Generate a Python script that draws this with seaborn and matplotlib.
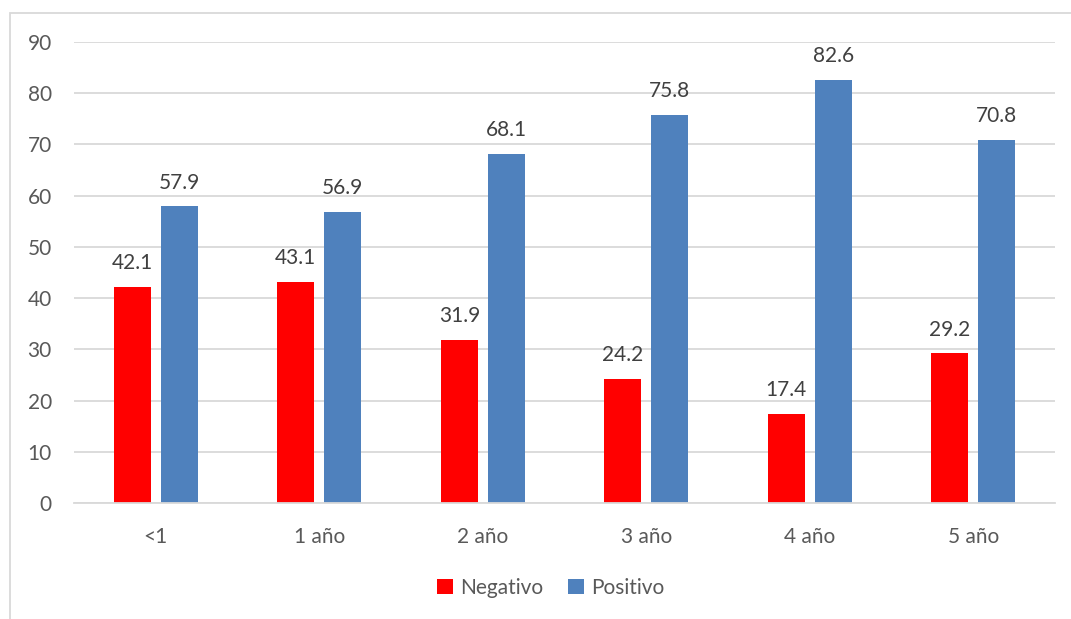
import matplotlib
matplotlib.use("Agg")
import matplotlib.pyplot as plt
from matplotlib.patches import Rectangle
import seaborn as sns
import pandas as pd

# Data
categories = ["<1", "1 año", "2 año", "3 año", "4 año", "5 año"]
negativo = [42.1, 43.1, 31.9, 24.2, 17.4, 29.2]
positivo = [57.9, 56.9, 68.1, 75.8, 82.6, 70.8]
series_names = ["Negativo", "Positivo"]
y_ticks = [0, 10, 20, 30, 40, 50, 60, 70, 80, 90]

df = pd.DataFrame({
    "grupo": categories * 2,
    "serie": [series_names[0]] * len(categories) + [series_names[1]] * len(categories),
    "valor": negativo + positivo,
})

sns.set_theme(style="white")
plt.rcParams["font.family"] = ["Lato", "DejaVu Sans"]

TEXT = "#595959"
LABEL = "#404040"
GRID = "#D9D9D9"
palette = {"Negativo": "#FF0000", "Positivo": "#4F81BD"}

W, H = 1071, 619
fig = plt.figure(figsize=(W / 100, H / 100), dpi=100)
fig.patch.set_facecolor("white")

# chart frame
fig.patches.append(Rectangle((10 / W, -0.05), 1.2, 1 - 13 / H + 0.05,
                             transform=fig.transFigure, fill=False,
                             edgecolor=GRID, linewidth=1.3))

ax = fig.add_axes([74 / W, 1 - 503 / H, (1055 - 74) / W, (503 - 42) / H])
sns.barplot(data=df, x="grupo", y="valor", hue="serie", order=categories,
            hue_order=series_names, palette=palette, width=0.572, gap=0.213,
            saturation=1, edgecolor="none", linewidth=0, ax=ax, legend=False)

ax.set_xlim(-0.5, len(categories) - 0.5)
ax.set_ylim(0, 90)
ax.set_yticks(y_ticks)
ax.set_xlabel("")
ax.set_ylabel("")
ax.yaxis.grid(True, color=GRID, linewidth=1.3)
ax.set_axisbelow(True)
for side in ["top", "right", "left"]:
    ax.spines[side].set_visible(False)
ax.spines["bottom"].set_color(GRID)
ax.spines["bottom"].set_linewidth(1.3)
ax.tick_params(axis="both", length=0, colors=TEXT, labelsize=15)
ax.tick_params(axis="y", pad=16)
ax.tick_params(axis="x", pad=17)

for cont in ax.containers:
    ax.bar_label(cont, fmt="%.1f", padding=10, color=LABEL, fontsize=15)

handles = [Rectangle((0, 0), 1, 1, facecolor=palette[s], edgecolor="none")
           for s in series_names]
fig.legend(handles, series_names, loc="center", bbox_to_anchor=(551 / W, 1 - 588 / H),
           ncol=2, frameon=False, fontsize=15, labelcolor=TEXT,
           handlelength=0.75, handleheight=0.75, handletextpad=0.35, columnspacing=1.2)

fig.savefig("out.png", dpi=100, facecolor="white")
